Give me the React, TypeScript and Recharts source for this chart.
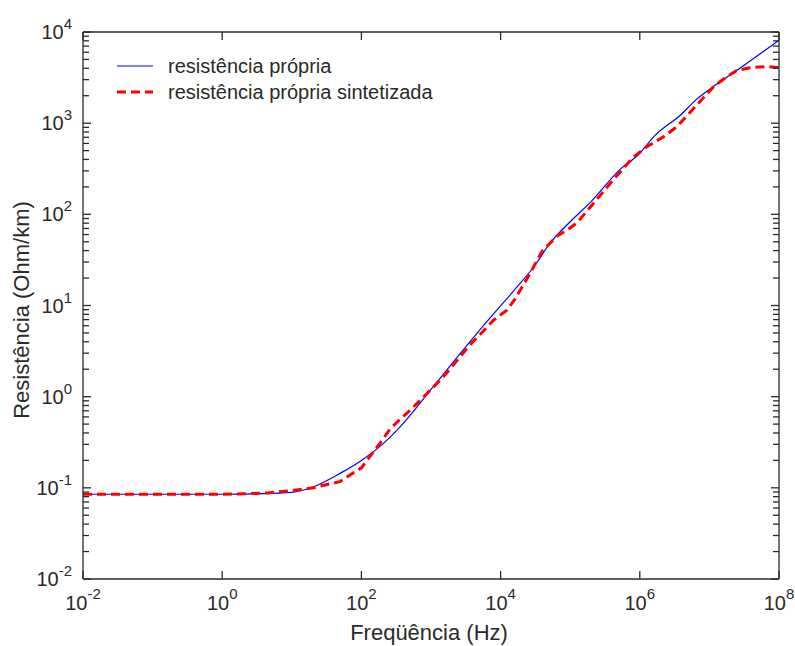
import { LineChart, Line, XAxis, YAxis } from 'recharts';

// resistência própria (blue, solid)
const freqMeasured = [0.01, 1, 3.16, 10, 20, 50, 100, 200, 400, 1000, 2000, 6300, 15800, 31600, 50000, 1e5, 2e5, 5e5, 1e6, 1.58e6, 4e6, 6.3e6, 1e7, 2.5e7, 1e8];
const resMeasured = [0.085, 0.085, 0.086, 0.089, 0.102, 0.145, 0.2, 0.3, 0.51, 1.2, 2.3, 6.6, 14.8, 28, 47, 83, 138, 302, 468, 708, 1260, 1780, 2340, 3800, 8130];

// resistência própria sintetizada (red, dashed)
const freqSynth = [0.01, 1, 2, 4.4, 10, 20, 49, 100, 186, 257, 355, 500, 1070, 1680, 3630, 7940, 12300, 15800, 25100, 39800, 64600, 1e5, 1.26e5, 2.4e5, 4.17e5, 8.13e5, 1.26e6, 2.19e6, 3.39e6, 6.6e6, 1.15e7, 1.78e7, 2.45e7, 3.8e7, 6.6e7, 1e8];
const resSynth = [0.085, 0.085, 0.086, 0.088, 0.093, 0.1, 0.117, 0.166, 0.31, 0.44, 0.56, 0.71, 1.26, 1.82, 3.7, 6.9, 8.9, 11.5, 20.9, 39.8, 57.5, 70.8, 81.3, 145, 240, 427, 550, 708, 912, 1585, 2510, 3240, 3770, 4060, 4170, 4070];

const xTicks = [1e-2, 1e0, 1e2, 1e4, 1e6, 1e8];
const yDecades = [1e-2, 1e-1, 1e0, 1e1, 1e2, 1e3, 1e4];
const minorSteps = [2, 3, 4, 5, 6, 7, 8, 9];
const yTicks = [
    ...yDecades,
    ...yDecades.slice(0, -1).flatMap((d) => minorSteps.map((k) => k * d)),
].sort((a, b) => a - b);

const SERIES_NAMES = ['resistência própria', 'resistência própria sintetizada'];

const FONT = '"Liberation Sans", Arial, sans-serif';
const TEXT_COLOR = '#2a2a2a';
const AXIS_COLOR = '#2a2a2a';

const measured = freqMeasured.map((f, i) => ({ f, r: resMeasured[i] }));
const synth = freqSynth.map((f, i) => ({ f, r: resSynth[i] }));

const exponentOf = (v: number) => Math.round(Math.log10(v));
const isMajor = (v: number) => Math.abs(Math.log10(v) - exponentOf(v)) < 1e-6;

// ticks point inward, like the matlab box
const LeftTick = ({ x, y, payload }: any) => {
    const major = isMajor(payload.value);
    return (
        <g>
            <line x1={x} x2={x + (major ? 8 : 6)} y1={y} y2={y} stroke={AXIS_COLOR} strokeWidth={1.3} />
            {major && (
                <text x={x - 11} y={y + 7} textAnchor="end" fontSize={20} fontFamily={FONT} fill={TEXT_COLOR}>
                    10<tspan dy={-10} fontSize={15}>{exponentOf(payload.value)}</tspan>
                </text>
            )}
        </g>
    );
};

const RightTick = ({ x, y, payload }: any) => {
    const major = isMajor(payload.value);
    return (
        <g>
            <line x1={x} x2={x - (major ? 8 : 6)} y1={y} y2={y} stroke={AXIS_COLOR} strokeWidth={1.3} />
        </g>
    );
};

const BottomTick = ({ x, y, payload }: any) => (
    <g>
        <line x1={x} x2={x} y1={y} y2={y - 8} stroke={AXIS_COLOR} strokeWidth={1.3} />
        <text x={x} y={y + 31} textAnchor="middle" fontSize={20} fontFamily={FONT} fill={TEXT_COLOR}>
            10<tspan dy={-11} fontSize={15}>{exponentOf(payload.value)}</tspan>
        </text>
    </g>
);

const TopTick = ({ x, y }: any) => (
    <g>
        <line x1={x} x2={x} y1={y} y2={y + 8} stroke={AXIS_COLOR} strokeWidth={1.3} />
    </g>
);

const XTitle = () => (
    <text x={429} y={640} textAnchor="middle" fontSize={22} fontFamily={FONT} fill={TEXT_COLOR}>
        Freqüência (Hz)
    </text>
);

const YTitle = () => (
    <text x={29} y={310} textAnchor="middle" fontSize={22} fontFamily={FONT} fill={TEXT_COLOR} transform="rotate(-90, 29, 310)">
        Resistência (Ohm/km)
    </text>
);

function LegendBox() {
    return (
        <svg width={360} height={64} style={{ position: 'absolute', left: 100, top: 45 }}>
            <line x1={17} x2={53} y1={21} y2={21} stroke="#0000ff" strokeWidth={1.2} />
            <text x={68} y={28} fontSize={20} fontFamily={FONT} fill={TEXT_COLOR}>{SERIES_NAMES[0]}</text>
            <line x1={17} x2={53} y1={47} y2={47} stroke="#ff0000" strokeWidth={3} strokeDasharray="9 5" />
            <text x={68} y={54} fontSize={20} fontFamily={FONT} fill={TEXT_COLOR}>{SERIES_NAMES[1]}</text>
        </svg>
    );
}

export default function App() {
    return (
        <div style={{ position: 'absolute', left: 0, top: 0, width: 795, height: 646, background: '#fff' }}>
            <LineChart width={795} height={646} margin={{ top: 31, right: 15, left: 0, bottom: 0 }}>
                <XAxis
                    xAxisId="bottom"
                    dataKey="f"
                    type="number"
                    scale="log"
                    domain={[0.01, 1e8]}
                    allowDataOverflow
                    ticks={xTicks}
                    interval={0}
                    height={67}
                    tickSize={0}
                    tickMargin={0}
                    tickLine={false}
                    tick={<BottomTick />}
                    axisLine={{ stroke: AXIS_COLOR, strokeWidth: 1.3 }}
                    label={<XTitle />}
                />
                <XAxis
                    xAxisId="top"
                    orientation="top"
                    dataKey="f"
                    type="number"
                    scale="log"
                    domain={[0.01, 1e8]}
                    allowDataOverflow
                    ticks={xTicks}
                    interval={0}
                    height={1}
                    tickSize={0}
                    tickMargin={0}
                    tickLine={false}
                    tick={<TopTick />}
                    axisLine={{ stroke: AXIS_COLOR, strokeWidth: 1.3 }}
                />
                <YAxis
                    yAxisId="left"
                    type="number"
                    scale="log"
                    domain={[0.01, 1e4]}
                    allowDataOverflow
                    ticks={yTicks}
                    interval={0}
                    width={83}
                    tickSize={0}
                    tickMargin={0}
                    tickLine={false}
                    tick={<LeftTick />}
                    axisLine={{ stroke: AXIS_COLOR, strokeWidth: 1.3 }}
                    label={<YTitle />}
                />
                <YAxis
                    yAxisId="right"
                    orientation="right"
                    type="number"
                    scale="log"
                    domain={[0.01, 1e4]}
                    allowDataOverflow
                    ticks={yTicks}
                    interval={0}
                    width={1}
                    tickSize={0}
                    tickMargin={0}
                    tickLine={false}
                    tick={<RightTick />}
                    axisLine={{ stroke: AXIS_COLOR, strokeWidth: 1.3 }}
                />
                <Line
                    data={measured}
                    xAxisId="bottom"
                    yAxisId="left"
                    dataKey="r"
                    name={SERIES_NAMES[0]}
                    type="monotone"
                    stroke="#0000ff"
                    strokeWidth={1.2}
                    dot={false}
                    activeDot={false}
                    isAnimationActive={false}
                />
                <Line
                    data={synth}
                    xAxisId="bottom"
                    yAxisId="left"
                    dataKey="r"
                    name={SERIES_NAMES[1]}
                    type="linear"
                    stroke="#ff0000"
                    strokeWidth={3}
                    strokeDasharray="9 5"
                    dot={false}
                    activeDot={false}
                    isAnimationActive={false}
                />
            </LineChart>
            <LegendBox />
        </div>
    );
}
